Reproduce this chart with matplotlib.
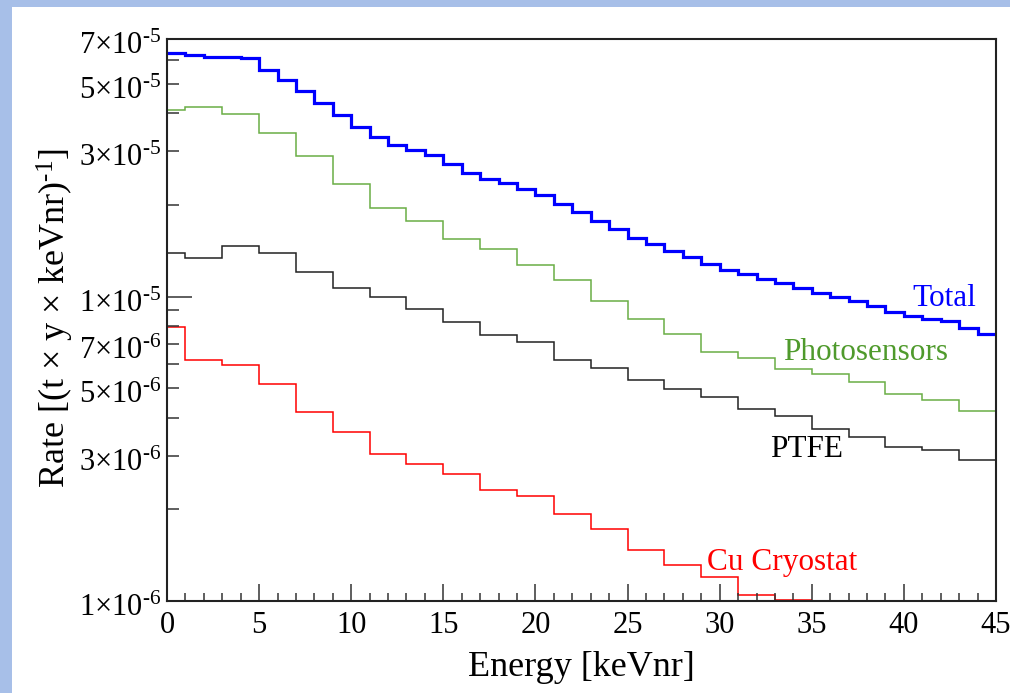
import numpy as np
import matplotlib
matplotlib.use("Agg")
import matplotlib.pyplot as plt
from matplotlib.patches import Rectangle
from matplotlib.ticker import FixedLocator, FixedFormatter
from matplotlib.transforms import ScaledTranslation

plt.rcParams['font.family'] = ['Liberation Serif', 'DejaVu Serif']
plt.rcParams['mathtext.fontset'] = 'custom'
plt.rcParams['mathtext.rm'] = 'Liberation Serif'
plt.rcParams['mathtext.it'] = 'Liberation Serif:italic'

# Rates in units of 1e-6 /(t y keVnr)
fine_edges = list(range(0, 46))
total = [62.9, 62.1, 61.4, 61.0, 60.5, 55.5, 51.3, 47.4, 43.3, 39.4,
         35.9, 33.5, 31.5, 30.3, 29.2, 27.2, 25.4, 24.4, 23.6, 22.5,
         21.5, 20.1, 18.9, 17.7, 16.7, 15.6, 14.9, 14.15, 13.45, 12.8,
         12.2, 11.9, 11.4, 11.1, 10.7, 10.3, 9.95, 9.70, 9.34, 8.88,
         8.60, 8.45, 8.30, 7.91, 7.55]

coarse_edges = [0, 1, 3, 5, 7, 9, 11, 13, 15, 17, 19, 21, 23, 25, 27,
                29, 31, 33, 35, 37, 39, 41, 43, 45]
photosensors = [40.9, 42.0, 39.7, 34.4, 28.9, 23.4, 19.5, 17.75, 15.4, 14.3,
                12.7, 11.3, 9.65, 8.46, 7.55, 6.57, 6.30, 5.79, 5.58, 5.24,
                4.80, 4.56, 4.20]
ptfe = [13.87, 13.35, 14.66, 13.87, 12.08, 10.69, 10.0, 9.12, 8.26, 7.49,
        7.08, 6.17, 5.81, 5.33, 4.98, 4.68, 4.28, 4.04, 3.68, 3.46,
        3.21, 3.13, 2.90]
cu_cryostat = [7.97, 6.17, 5.95, 5.16, 4.18, 3.58, 3.03, 2.82, 2.61, 2.32,
               2.21, 1.93, 1.72, 1.47, 1.31, 1.20, 1.05, 1.01]

# y tick marks: (mantissa, exponent); labelled ones get text
y_decades = [(1, -6), (1, -5)]
y_minor = [(m, -6) for m in range(2, 10)] + [(m, -5) for m in range(2, 8)]
y_labelled = [3, 5, 7]

blue = '#0000ff'
green_line = '#6aae45'
green_text = '#4f9a2c'
red = '#ff0000'
dark = '#222222'

fig = plt.figure(figsize=(10.1, 6.93), dpi=100)
# light blue frame on top and left
fig.patches.append(Rectangle((0, 1 - 7 / 693), 1, 7 / 693, transform=fig.transFigure,
                             facecolor='#a7bfe8', edgecolor='none', zorder=0))
fig.patches.append(Rectangle((0, 0), 12 / 1010, 1, transform=fig.transFigure,
                             facecolor='#a7bfe8', edgecolor='none', zorder=0))

ax = fig.add_axes([167 / 1010, 1 - 601 / 693, 829 / 1010, 562 / 693])
ax.set_yscale('log')

scale = 1e-6
ax.stairs(np.array(ptfe) * scale, coarse_edges, baseline=None, color=dark, lw=1.1)
ax.stairs(np.array(photosensors) * scale, coarse_edges, baseline=None, color=green_line, lw=1.1)
ax.stairs(np.array(cu_cryostat) * scale, coarse_edges[:len(cu_cryostat) + 1],
          baseline=None, color=red, lw=1.1)
ax.stairs(np.array(total) * scale, fine_edges, baseline=None, color=blue, lw=2.3)

ax.set_xlim(0, 45)
ax.set_ylim(1e-6, 7.01e-5)

# x ticks
ax.set_xticks(range(0, 46, 5))
ax.set_xticks(range(0, 46), minor=True)
ax.tick_params(axis='x', which='major', direction='in', length=12, width=1.1,
               color='#333333', labelsize=22, pad=7, top=False)
ax.tick_params(axis='x', which='minor', direction='in', length=5.8, width=1.1,
               color='#333333', top=False)

def lab(m, e):
    return '%d×10$^{\u2010%d}$' % (m, -e)

ax.yaxis.set_major_locator(FixedLocator([float('%de%d' % me) for me in y_decades]))
ax.yaxis.set_major_formatter(FixedFormatter([lab(*me) for me in y_decades]))
ax.yaxis.set_minor_locator(FixedLocator([float('%de%d' % me) for me in y_minor]))
ax.yaxis.set_minor_formatter(FixedFormatter(
    [lab(m, e) if m in y_labelled else '' for m, e in y_minor]))
ax.tick_params(axis='y', which='major', direction='in', length=18, width=1.1,
               color='#333333', labelsize=22, pad=4, right=False)
ax.tick_params(axis='y', which='minor', direction='in', length=8.6, width=1.1,
               color='#333333', labelsize=22, pad=4, right=False)

# ROOT puts the y labels a little below the tick
shift = ScaledTranslation(0, -0.04, fig.dpi_scale_trans)
for t in ax.get_yticklabels(which='both'):
    t.set_transform(t.get_transform() + shift)

for s in ax.spines.values():
    s.set_linewidth(1.5)
    s.set_color(dark)

ax.set_xlabel('Energy [keVnr]', fontsize=26, va='baseline')
ax.xaxis.set_label_coords(0.5, -0.1335)
ax.set_ylabel('Rate [(t × y × keVnr)$^{\u20101}$]', fontsize=26, va='center', ha='center')
ax.yaxis.set_label_coords(-0.134, 0.503)

ax.text(42.17, 9.34e-6, 'Total', color=blue, fontsize=22.5, ha='center', va='baseline')
ax.text(37.9, 6.21e-6, 'Photosensors', color=green_text, fontsize=22.5, ha='center', va='baseline')
ax.text(34.7, 2.97e-6, 'PTFE', color='black', fontsize=22.5, ha='center', va='baseline')
ax.text(33.37, 1.264e-6, 'Cu Cryostat', color=red, fontsize=22.5, ha='center', va='baseline')

fig.savefig('out.png', dpi=100)
